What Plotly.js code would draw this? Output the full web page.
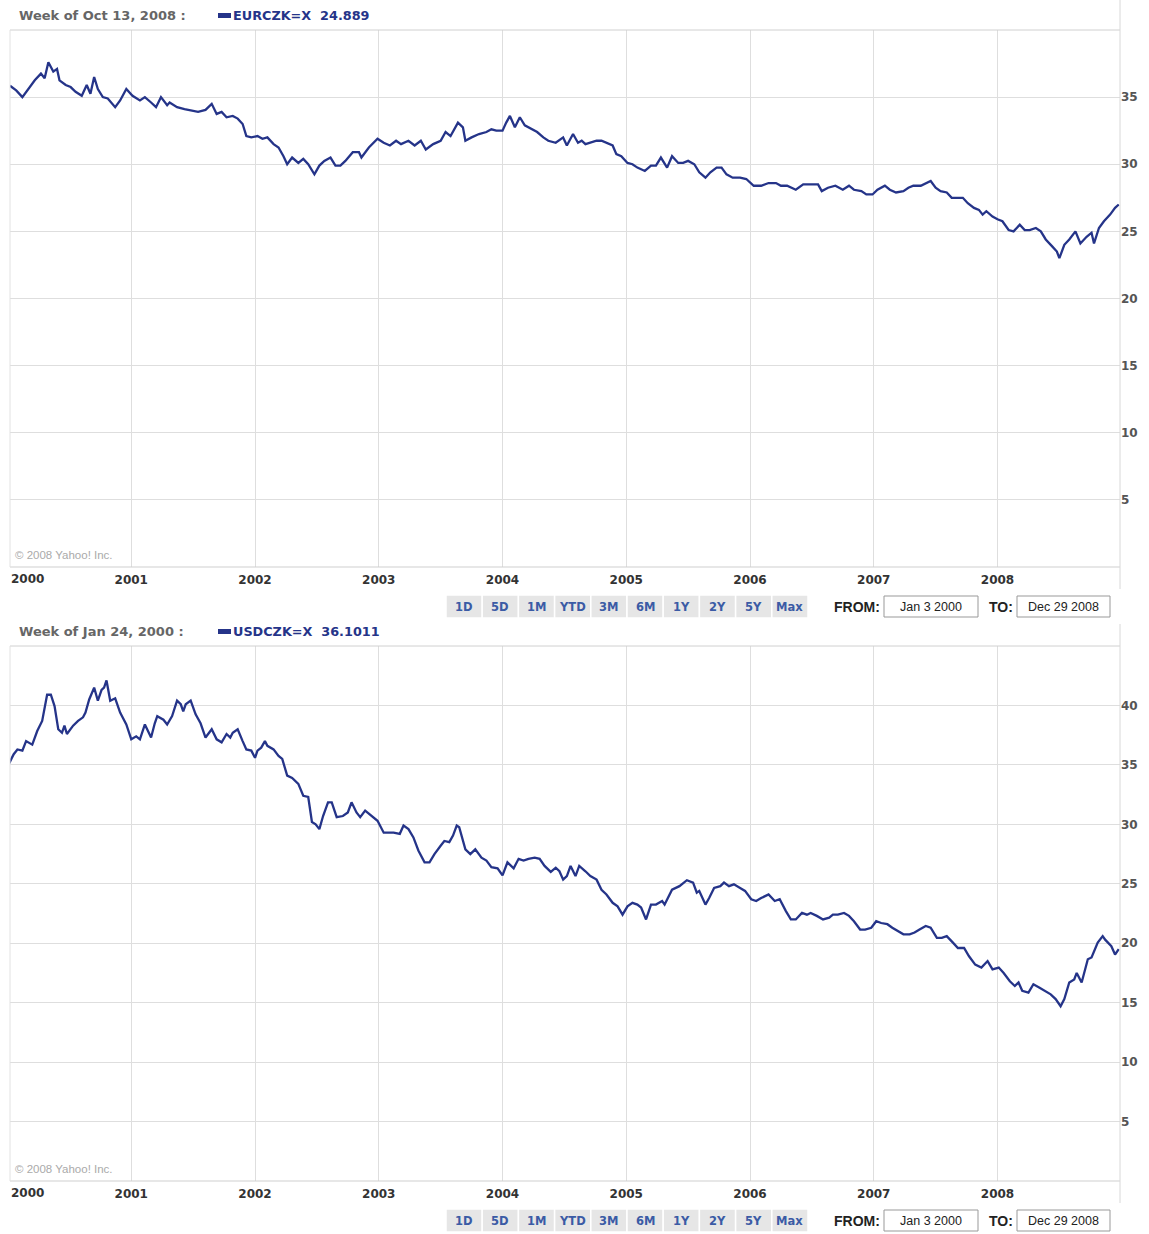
<!DOCTYPE html>
<html>
<head>
<meta charset="utf-8">
<script src="https://cdn.plot.ly/plotly-3.0.1.min.js"></script>
<style>
html,body{margin:0;padding:0;background:#fff;}
#chart{width:1149px;height:1234px;}
</style>
</head>
<body>
<div id="chart"></div>
<script>
// ---------- DATA ----------
const eurX = [2000.02,2000.07,2000.12,2000.17,2000.22,2000.27,2000.30,2000.33,2000.37,2000.40,2000.42,2000.47,2000.51,2000.55,2000.60,2000.64,2000.67,2000.70,2000.73,2000.77,2000.81,2000.87,2000.91,2000.96,
2001.01,2001.07,2001.11,2001.16,2001.20,2001.24,2001.29,2001.31,2001.37,2001.43,2001.49,2001.54,2001.60,2001.65,2001.69,2001.73,2001.77,2001.82,2001.86,2001.90,2001.93,2001.97,
2002.02,2002.06,2002.10,2002.15,2002.19,2002.23,2002.26,2002.30,2002.35,2002.39,2002.43,2002.48,2002.52,2002.56,2002.61,2002.65,2002.69,2002.73,2002.79,2002.84,2002.86,2002.92,2002.99,
2003.04,2003.09,2003.14,2003.18,2003.24,2003.29,2003.34,2003.38,2003.44,2003.50,2003.54,2003.58,2003.64,2003.68,2003.70,2003.75,2003.81,2003.87,2003.91,2003.95,
2004.00,2004.03,2004.06,2004.10,2004.14,2004.18,2004.24,2004.28,2004.33,2004.37,2004.43,2004.49,2004.52,2004.57,2004.61,2004.64,2004.67,2004.71,2004.76,2004.80,2004.84,2004.89,2004.92,2004.96,
2005.01,2005.05,2005.09,2005.15,2005.20,2005.24,2005.28,2005.33,2005.37,2005.42,2005.46,2005.50,2005.55,2005.59,2005.64,2005.68,2005.73,2005.77,2005.81,2005.86,2005.92,2005.97,
2006.03,2006.09,2006.15,2006.21,2006.25,2006.30,2006.37,2006.43,2006.49,2006.55,2006.58,2006.63,2006.69,2006.75,2006.80,2006.84,2006.90,2006.94,2006.99,
2007.03,2007.09,2007.13,2007.18,2007.24,2007.28,2007.32,2007.38,2007.43,2007.46,2007.50,2007.54,2007.59,2007.63,2007.68,2007.72,2007.76,2007.81,2007.85,2007.88,2007.91,2007.96,
2008.00,2008.04,2008.09,2008.13,2008.18,2008.22,2008.26,2008.31,2008.35,2008.39,2008.44,2008.48,2008.50,2008.54,2008.58,2008.63,2008.67,2008.72,2008.76,2008.78,2008.82,2008.86,2008.91,2008.95,2008.98];
const eurY = [35.85,35.5,35.0,35.6,36.25,36.75,36.4,37.6,36.9,37.1,36.25,35.9,35.75,35.4,35.1,35.9,35.25,36.5,35.6,35.0,34.9,34.25,34.75,35.6,
35.1,34.75,35.0,34.6,34.25,35.0,34.4,34.6,34.25,34.1,34.0,33.9,34.05,34.5,33.75,33.9,33.5,33.6,33.4,33.0,32.1,32.0,
32.1,31.9,32.0,31.5,31.25,30.6,30.0,30.5,30.1,30.4,30.0,29.25,29.9,30.25,30.5,29.9,29.9,30.25,30.9,30.9,30.5,31.25,31.9,
31.6,31.4,31.75,31.5,31.75,31.4,31.75,31.1,31.5,31.75,32.4,32.1,33.1,32.75,31.75,32.0,32.25,32.4,32.6,32.5,
32.5,33.1,33.6,32.75,33.5,32.9,32.6,32.4,32.0,31.75,31.6,32.0,31.4,32.25,31.6,31.75,31.5,31.6,31.75,31.75,31.6,31.4,30.75,30.6,
30.1,30.0,29.75,29.5,29.9,29.9,30.5,29.75,30.6,30.1,30.1,30.25,30.0,29.4,29.0,29.4,29.75,29.75,29.25,29.0,29.0,28.9,
28.4,28.4,28.6,28.6,28.4,28.4,28.1,28.5,28.5,28.5,28.0,28.25,28.4,28.1,28.4,28.1,28.0,27.75,27.75,
28.1,28.4,28.1,27.9,28.0,28.25,28.4,28.4,28.6,28.75,28.25,28.0,27.9,27.5,27.5,27.5,27.1,26.75,26.6,26.25,26.5,26.1,
25.9,25.75,25.1,25.0,25.5,25.1,25.1,25.25,25.0,24.4,23.9,23.5,23.0,24.0,24.4,25.0,24.1,24.6,24.9,24.1,25.25,25.75,26.25,26.75,27.0];

const usdX = [2000.01,2000.05,2000.08,2000.12,2000.15,2000.20,2000.24,2000.28,2000.32,2000.35,2000.38,2000.41,2000.44,2000.46,2000.48,2000.53,2000.57,2000.61,2000.63,2000.66,2000.70,2000.73,2000.76,2000.78,2000.80,2000.83,2000.87,2000.91,2000.96,
2001.00,2001.04,2001.07,2001.11,2001.16,2001.19,2001.21,2001.26,2001.29,2001.33,2001.37,2001.40,2001.42,2001.44,2001.48,2001.52,2001.56,2001.60,2001.65,2001.69,2001.73,2001.77,2001.80,2001.82,2001.86,2001.90,2001.93,2001.97,
2002.00,2002.02,2002.05,2002.08,2002.10,2002.15,2002.19,2002.22,2002.26,2002.30,2002.35,2002.39,2002.43,2002.46,2002.49,2002.52,2002.55,2002.59,2002.62,2002.66,2002.71,2002.75,2002.78,2002.82,2002.85,2002.89,2002.94,2002.99,
2003.04,2003.08,2003.12,2003.17,2003.20,2003.24,2003.28,2003.32,2003.37,2003.41,2003.45,2003.50,2003.53,2003.57,2003.60,2003.63,2003.65,2003.70,2003.74,2003.78,2003.83,2003.87,2003.91,2003.96,
2004.00,2004.04,2004.09,2004.13,2004.17,2004.21,2004.26,2004.30,2004.34,2004.39,2004.43,2004.46,2004.49,2004.52,2004.55,2004.59,2004.62,2004.67,2004.71,2004.76,2004.80,2004.84,2004.89,2004.93,2004.97,
2005.01,2005.05,2005.09,2005.12,2005.16,2005.20,2005.24,2005.29,2005.31,2005.37,2005.43,2005.49,2005.54,2005.57,2005.59,2005.64,2005.67,2005.71,2005.76,2005.79,2005.83,2005.87,2005.92,2005.96,
2006.01,2006.05,2006.09,2006.15,2006.20,2006.24,2006.29,2006.33,2006.37,2006.42,2006.46,2006.49,2006.54,2006.59,2006.64,2006.67,2006.71,2006.76,2006.80,2006.84,2006.89,2006.93,2006.98,
2007.02,2007.06,2007.11,2007.15,2007.20,2007.24,2007.29,2007.33,2007.37,2007.42,2007.46,2007.51,2007.55,2007.59,2007.64,2007.68,2007.73,2007.77,2007.82,2007.87,2007.92,2007.96,
2008.01,2008.05,2008.10,2008.14,2008.17,2008.20,2008.25,2008.29,2008.34,2008.38,2008.43,2008.47,2008.51,2008.54,2008.58,2008.62,2008.64,2008.68,2008.73,2008.76,2008.79,2008.81,2008.85,2008.87,2008.92,2008.95,2008.98];
const usdY = [35.06,35.9,36.3,36.2,37.0,36.7,37.85,38.7,40.9,40.9,39.95,38.0,37.7,38.3,37.6,38.3,38.7,39.0,39.4,40.5,41.5,40.4,41.3,41.5,42.1,40.4,40.6,39.4,38.4,
37.15,37.4,37.15,38.4,37.3,38.5,39.1,38.8,38.4,39.1,40.4,40.1,39.5,40.1,40.4,39.25,38.5,37.3,38.0,37.15,36.9,37.6,37.3,37.7,38.0,37.0,36.3,36.2,
35.6,36.2,36.45,37.0,36.6,36.3,35.75,35.5,34.1,33.9,33.4,32.4,32.3,30.2,30.0,29.6,30.7,31.85,31.85,30.6,30.7,31.0,31.85,31.0,30.6,31.15,30.7,30.3,
29.3,29.3,29.3,29.2,29.9,29.6,28.9,27.8,26.8,26.8,27.5,28.2,28.6,28.5,29.05,29.9,29.75,27.9,27.5,27.9,27.2,26.95,26.4,26.3,
25.7,26.8,26.3,27.1,26.95,27.1,27.2,27.1,26.5,26.0,26.35,26.05,25.35,25.65,26.5,25.65,26.5,26.05,25.65,25.35,24.5,24.1,23.4,23.1,22.4,
23.1,23.4,23.25,23.0,22.0,23.25,23.25,23.55,23.25,24.5,24.8,25.3,25.1,24.25,24.4,23.25,23.8,24.65,24.8,25.1,24.8,24.95,24.65,24.4,
23.7,23.55,23.8,24.1,23.55,23.7,22.7,22.0,22.0,22.55,22.4,22.55,22.3,22.0,22.15,22.4,22.4,22.55,22.3,21.85,21.15,21.15,21.3,
21.85,21.7,21.6,21.3,21.0,20.75,20.75,20.9,21.15,21.45,21.3,20.45,20.45,20.6,20.05,19.6,19.6,18.9,18.2,17.95,18.5,17.8,
17.95,17.5,16.8,16.4,16.7,16.0,15.85,16.55,16.25,16.0,15.7,15.3,14.7,15.3,16.7,16.95,17.5,16.7,18.65,18.8,19.5,20.05,20.6,20.3,19.75,19.05,19.5];

const yearTicks  = [2001,2002,2003,2004,2005,2006,2007,2008];
const yearLabels = ['2001','2002','2003','2004','2005','2006','2007','2008'];
const firstYearLabel = '2000';
const eurTicks = [5,10,15,20,25,30,35];
const usdTicks = [5,10,15,20,25,30,35,40];
const rangeButtons = ['1D','5D','1M','YTD','3M','6M','1Y','2Y','5Y','Max'];

const charts = [
  {week:'Week of Oct 13, 2008 :', sym:'EURCZK=X', val:'24.889'},
  {week:'Week of Jan 24, 2000 :', sym:'USDCZK=X', val:'36.1011'}
];
const fromDate = 'Jan 3 2000', toDate = 'Dec 29 2008';
const copyright = '\u00a9 2008 Yahoo! Inc.';

// ---------- LAYOUT HELPERS ----------
const W = 1149, H = 1234;
const px = x => x / W;
const py = y => 1 - y / H;

const NAVY = '#253489';
const GRID = '#dedede';
const FONT = 'DejaVu Sans, Verdana, sans-serif';

// plot boxes in pixels
const boxes = [
  {x0:10, x1:1120, y0:30,  y1:567},
  {x0:10, x1:1120, y0:646, y1:1181}
];

const xr = [2000.02, 2008.99];

function xaxisDef(domain, anchor){
  return {
    domain: domain, anchor: anchor, range: xr, type:'linear',
    tickvals: yearTicks, ticktext: yearLabels,
    showgrid: true, gridcolor: GRID, gridwidth: 1,
    zeroline: false, showline: false, ticks: '',
    ticklabelstandoff: 4,
    tickfont: {family: FONT, size: 12, color: '#333', weight: 'bold'},
    fixedrange: true
  };
}
function yaxisDef(domain, anchor, ticks, range){
  return {
    domain: domain, anchor: anchor, range: range, side: 'right',
    tickvals: ticks, ticktext: ticks.map(String),
    showgrid: true, gridcolor: GRID, gridwidth: 1,
    zeroline: false, showline: false, ticks: '',
    tickfont: {family: FONT, size: 12, color: '#555', weight: 'bold'},
    fixedrange: true
  };
}

const traces = [
  {x: eurX, y: eurY, type:'scatter', mode:'lines', xaxis:'x', yaxis:'y',
   line:{color: NAVY, width: 2.3}, hoverinfo:'skip'},
  {x: usdX, y: usdY, type:'scatter', mode:'lines', xaxis:'x2', yaxis:'y2',
   line:{color: NAVY, width: 2.3}, hoverinfo:'skip'}
];

const shapes = [];
const annotations = [];

boxes.forEach((b, i) => {
  const top = b.y0;
  shapes.push({type:'line', xref:'paper', yref:'paper', x0:px(b.x0), x1:px(b.x1), y0:py(top), y1:py(top), line:{color:'#d0d0d0', width:1}});
  shapes.push({type:'line', xref:'paper', yref:'paper', x0:px(b.x0), x1:px(b.x1), y0:py(b.y1), y1:py(b.y1), line:{color:'#cfcfcf', width:1}});
  shapes.push({type:'line', xref:'paper', yref:'paper', x0:px(b.x0), x1:px(b.x0), y0:py(top), y1:py(b.y1), line:{color:'#e2e2e2', width:1}});
  shapes.push({type:'line', xref:'paper', yref:'paper', x0:px(b.x1), x1:px(b.x1), y0:py(top - (i===0?30:22)), y1:py(b.y1 + 22), line:{color:'#d8d8d8', width:1}});

  // header
  const hy = top - 15;
  annotations.push({xref:'paper', yref:'paper', x:px(17), y:py(hy), xanchor:'left', yanchor:'middle', showarrow:false,
    text: charts[i].week, font:{family:FONT, size:13, color:'#666', weight:'bold'}});
  shapes.push({type:'rect', xref:'paper', yref:'paper', x0:px(218), x1:px(231), y0:py(hy+3), y1:py(hy-2), fillcolor:NAVY, line:{width:0}});
  annotations.push({xref:'paper', yref:'paper', x:px(231), y:py(hy), xanchor:'left', yanchor:'middle', showarrow:false,
    text: charts[i].sym + '&nbsp;&nbsp;' + charts[i].val, font:{family:FONT, size:12.8, color:NAVY, weight:'bold'}});

  // copyright
  annotations.push({xref:'paper', yref:'paper', x:px(13), y:py(b.y1 - 12), xanchor:'left', yanchor:'middle', showarrow:false,
    text: copyright, font:{family:'Liberation Sans, Arial, sans-serif', size:11.5, color:'#aaa'}});

  // first year label (left-aligned at edge)
  annotations.push({xref:'paper', yref:'paper', x:px(9), y:py(b.y1 + 12), xanchor:'left', yanchor:'middle', showarrow:false,
    text: firstYearLabel, font:{family:FONT, size:12, color:'#333', weight:'bold'}});

  // range buttons
  const by0 = b.y1 + 28, by1 = b.y1 + 51;
  rangeButtons.forEach((lab, k) => {
    const x0 = 446 + k * 36.2, x1 = x0 + 36.2;
    shapes.push({type:'rect', xref:'paper', yref:'paper', x0:px(x0), x1:px(x1), y0:py(by1), y1:py(by0),
      fillcolor:'#e6e6e6', line:{color:'#ffffff', width:1.5}});
    annotations.push({xref:'paper', yref:'paper', x:px((x0+x1)/2), y:py((by0+by1)/2), xanchor:'center', yanchor:'middle', showarrow:false,
      text: lab, font:{family:FONT, size:11.5, color:'#3b5ba5', weight:'bold'}});
  });
  annotations.push({xref:'paper', yref:'paper', x:px(857), y:py((by0+by1)/2), xanchor:'center', yanchor:'middle', showarrow:false,
    text:'FROM:', font:{family:'Liberation Sans, Arial, sans-serif', size:14, color:'#222', weight:'bold'}});
  shapes.push({type:'rect', xref:'paper', yref:'paper', x0:px(884), x1:px(978), y0:py(by1-1), y1:py(by0+1), fillcolor:'#fff', line:{color:'#999', width:1}});
  annotations.push({xref:'paper', yref:'paper', x:px(931), y:py((by0+by1)/2), xanchor:'center', yanchor:'middle', showarrow:false,
    text: fromDate, font:{family:'Liberation Sans, Arial, sans-serif', size:12.5, color:'#222'}});
  annotations.push({xref:'paper', yref:'paper', x:px(1001), y:py((by0+by1)/2), xanchor:'center', yanchor:'middle', showarrow:false,
    text:'TO:', font:{family:'Liberation Sans, Arial, sans-serif', size:14, color:'#222', weight:'bold'}});
  shapes.push({type:'rect', xref:'paper', yref:'paper', x0:px(1017), x1:px(1110), y0:py(by1-1), y1:py(by0+1), fillcolor:'#fff', line:{color:'#999', width:1}});
  annotations.push({xref:'paper', yref:'paper', x:px(1063.5), y:py((by0+by1)/2), xanchor:'center', yanchor:'middle', showarrow:false,
    text: toDate, font:{family:'Liberation Sans, Arial, sans-serif', size:12.5, color:'#222'}});
});

const layout = {
  width: W, height: H,
  margin: {l:0, r:0, t:0, b:0, pad:0},
  paper_bgcolor:'#fff', plot_bgcolor:'#fff',
  showlegend: false,
  xaxis:  xaxisDef([px(boxes[0].x0), px(boxes[0].x1)], 'y'),
  yaxis:  yaxisDef([py(boxes[0].y1), py(boxes[0].y0)], 'x', eurTicks, [0, 40]),
  xaxis2: xaxisDef([px(boxes[1].x0), px(boxes[1].x1)], 'y2'),
  yaxis2: yaxisDef([py(boxes[1].y1), py(boxes[1].y0)], 'x2', usdTicks, [0, 45]),
  shapes: shapes,
  annotations: annotations
};

Plotly.newPlot('chart', traces, layout, {displayModeBar:false, staticPlot:true});
</script>
</body>
</html>
